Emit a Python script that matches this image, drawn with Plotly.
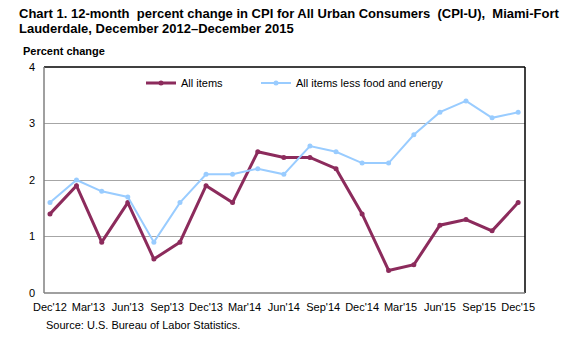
import plotly.graph_objects as go

# Bimonthly reference periods, December 2012 through December 2015
periods = ["2012-12-01", "2013-02-01", "2013-04-01", "2013-06-01", "2013-08-01",
           "2013-10-01", "2013-12-01", "2014-02-01", "2014-04-01", "2014-06-01",
           "2014-08-01", "2014-10-01", "2014-12-01", "2015-02-01", "2015-04-01",
           "2015-06-01", "2015-08-01", "2015-10-01", "2015-12-01"]

all_items = [1.4, 1.9, 0.9, 1.6, 0.6, 0.9, 1.9, 1.6, 2.5, 2.4,
             2.4, 2.2, 1.4, 0.4, 0.5, 1.2, 1.3, 1.1, 1.6]
core_items = [1.6, 2.0, 1.8, 1.7, 0.9, 1.6, 2.1, 2.1, 2.2, 2.1,
              2.6, 2.5, 2.3, 2.3, 2.8, 3.2, 3.4, 3.1, 3.2]

tick_dates = ["2012-12-01", "2013-03-01", "2013-06-01", "2013-09-01", "2013-12-01",
              "2014-03-01", "2014-06-01", "2014-09-01", "2014-12-01", "2015-03-01",
              "2015-06-01", "2015-09-01", "2015-12-01"]
tick_text = ["Dec'12", "Mar'13", "Jun'13", "Sep'13", "Dec'13", "Mar'14", "Jun'14",
             "Sep'14", "Dec'14", "Mar'15", "Jun'15", "Sep'15", "Dec'15"]

FONT = "Liberation Sans, Arial, sans-serif"
MAROON = "#8C2B5C"
LIGHT_BLUE = "#99CCFF"

fig = go.Figure()
fig.add_trace(go.Scatter(
    x=periods, y=all_items, name="All items", mode="lines+markers",
    line=dict(color=MAROON, width=3), marker=dict(color=MAROON, size=5),
    legend="legend",
))
fig.add_trace(go.Scatter(
    x=periods, y=core_items, name="All items less food and energy", mode="lines+markers",
    line=dict(color=LIGHT_BLUE, width=2), marker=dict(color=LIGHT_BLUE, size=5),
    legend="legend2",
))

legend_style = dict(
    orientation="h", yanchor="middle", xanchor="left",
    bgcolor="rgba(0,0,0,0)", font=dict(family=FONT, size=11, color="black"),
    borderwidth=0,
)

fig.update_layout(
    width=586, height=339,
    margin=dict(l=44, r=61, t=67, b=46),
    paper_bgcolor="white", plot_bgcolor="white",
    font=dict(family=FONT, size=11, color="black"),
    showlegend=True,
    legend=dict(x=(141 - 44) / 481, y=1 - (83 - 67) / 226, **legend_style),
    legend2=dict(x=(256 - 44) / 481, y=1 - (83 - 67) / 226, **legend_style),
    xaxis=dict(
        type="date", range=["2012-11-17", "2015-12-17"],
        tickmode="array", tickvals=tick_dates, ticktext=tick_text,
        showgrid=False, zeroline=False, showline=False, ticks="",
        tickfont=dict(size=11), ticklabelstandoff=6,
    ),
    yaxis=dict(
        range=[0, 4], tickvals=[0, 1, 2, 3, 4], ticktext=["0", "1", "2", "3", "4"],
        showgrid=True, gridcolor="#A6A6A6", gridwidth=1,
        zeroline=False, showline=False, ticks="",
        tickfont=dict(size=11), ticklabelstandoff=8,
    ),
)

# Plot frame: dark top/right edges, grey left/bottom axes
fig.add_shape(type="line", xref="paper", yref="paper", x0=0, x1=1, y0=1, y1=1,
              line=dict(color="black", width=1.5))
fig.add_shape(type="line", xref="paper", yref="paper", x0=1, x1=1, y0=0, y1=1,
              line=dict(color="black", width=1.5))
fig.add_shape(type="line", xref="paper", yref="paper", x0=0, x1=0, y0=0, y1=1,
              line=dict(color="#808080", width=1.5))
fig.add_shape(type="line", xref="paper", yref="paper", x0=0, x1=1, y0=0, y1=0,
              line=dict(color="#808080", width=1.5))

title_lines = [
    "Chart 1. 12-month  percent change in CPI for All Urban Consumers  (CPI-U),  Miami-Fort",
    "Lauderdale, December 2012\u2013December 2015",
]
for i, line in enumerate(title_lines):
    fig.add_annotation(
        text=f"<b>{line}</b>", xref="paper", yref="paper",
        x=(17 - 44) / 481, y=1 + (67 - (13.5 + 15 * i)) / 226,
        xanchor="left", yanchor="middle", align="left", showarrow=False,
        font=dict(family=FONT, size=13, color="black"),
    )
fig.add_annotation(
    text="<b>Percent change</b>", xref="paper", yref="paper",
    x=(21 - 44) / 481, y=1 + (67 - 51) / 226, xanchor="left", yanchor="middle",
    showarrow=False, font=dict(family=FONT, size=11, color="black"),
)
fig.add_annotation(
    text="Source: U.S. Bureau of Labor Statistics.", xref="paper", yref="paper",
    x=0, y=-(325 - 293) / 226, xanchor="left", yanchor="middle",
    showarrow=False, font=dict(family=FONT, size=11, color="black"),
)

fig.write_html("out.html")
